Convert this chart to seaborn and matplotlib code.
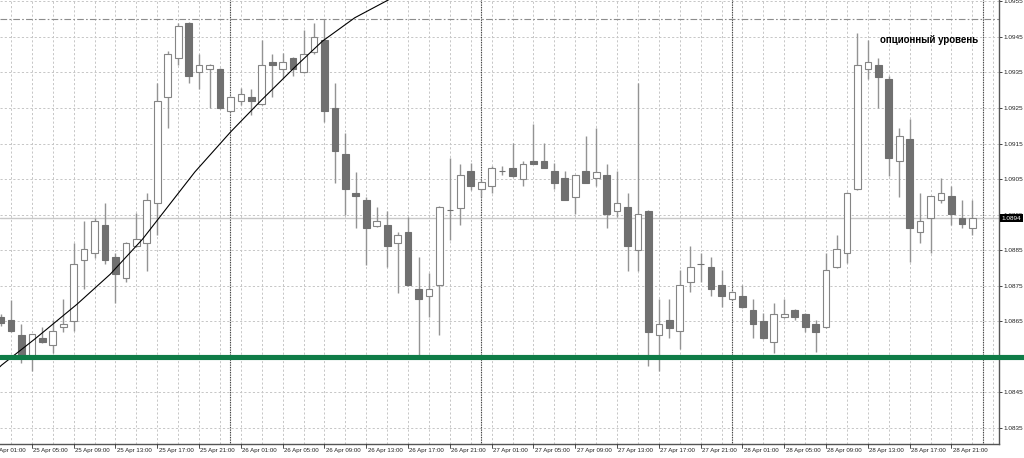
import numpy as np
import pandas as pd
import matplotlib
matplotlib.use("Agg")
import matplotlib.pyplot as plt
import seaborn as sns
from matplotlib.transforms import blended_transform_factory

# ---------------- data ----------------
start_time = "2017-04-25 02:00"
n_bars = 94
ref_time = "2017-04-26 00:00"

open_ = [1.08661, 1.08653, 1.08611, 1.08549, 1.08602, 1.08582, 1.08633, 1.08650, 1.08822, 1.08842,
         1.08920, 1.08830, 1.08771, 1.08861, 1.08870, 1.08982, 1.09281, 1.09391, 1.09489, 1.09351,
         1.09360, 1.09360, 1.09242, 1.09270, 1.09281, 1.09261, 1.09380, 1.09360, 1.09391, 1.09351,
         1.09408, 1.09442, 1.09250, 1.09120, 1.09011, 1.08991, 1.08918, 1.08920, 1.08870, 1.08901,
         1.08740, 1.08720, 1.08751, 1.08963, 1.08968, 1.09073, 1.09022, 1.09030, 1.09073, 1.09081,
         1.09050, 1.09101, 1.09101, 1.09073, 1.09053, 1.08999, 1.09073, 1.09053, 1.09061, 1.08960,
         1.08971, 1.08850, 1.08960, 1.08611, 1.08653, 1.08622, 1.08760, 1.08811, 1.08802, 1.08751,
         1.08712, 1.08720, 1.08681, 1.08650, 1.08591, 1.08661, 1.08681, 1.08670, 1.08642, 1.08633,
         1.08802, 1.08842, 1.09022, 1.09360, 1.09371, 1.09332, 1.09101, 1.09163, 1.08901, 1.08940,
         1.08991, 1.09002, 1.08940, 1.08912]
high = [1.08670, 1.08709, 1.08642, 1.08615, 1.08633, 1.08653, 1.08712, 1.08870, 1.08932, 1.08940,
        1.08982, 1.08842, 1.08873, 1.08954, 1.09011, 1.09320, 1.09411, 1.09489, 1.09492, 1.09402,
        1.09374, 1.09363, 1.09284, 1.09306, 1.09304, 1.09442, 1.09402, 1.09405, 1.09393, 1.09470,
        1.09489, 1.09501, 1.09320, 1.09180, 1.09070, 1.08999, 1.08971, 1.08960, 1.08901, 1.08943,
        1.08830, 1.08785, 1.08974, 1.09109, 1.09092, 1.09095, 1.09047, 1.09087, 1.09087, 1.09151,
        1.09101, 1.09205, 1.09151, 1.09095, 1.09073, 1.09062, 1.09171, 1.09194, 1.09092, 1.09073,
        1.09011, 1.09320, 1.08963, 1.08712, 1.08712, 1.08794, 1.08861, 1.08842, 1.08830, 1.08794,
        1.08735, 1.08751, 1.08712, 1.08673, 1.08701, 1.08712, 1.08684, 1.08673, 1.08653, 1.08842,
        1.08892, 1.09013, 1.09461, 1.09442, 1.09391, 1.09340, 1.09194, 1.09219, 1.09011, 1.09003,
        1.09053, 1.09030, 1.08991, 1.08991]
low = [1.08636, 1.08619, 1.08532, 1.08509, 1.08588, 1.08560, 1.08619, 1.08622, 1.08740, 1.08827,
       1.08811, 1.08701, 1.08760, 1.08858, 1.08791, 1.08892, 1.09194, 1.09371, 1.09320, 1.09304,
       1.09250, 1.09248, 1.09239, 1.09258, 1.09230, 1.09258, 1.09281, 1.09335, 1.09340, 1.09349,
       1.09402, 1.09211, 1.09039, 1.08949, 1.08912, 1.08808, 1.08916, 1.08802, 1.08729, 1.08749,
       1.08549, 1.08661, 1.08611, 1.08878, 1.08920, 1.09019, 1.08999, 1.09011, 1.09061, 1.09057,
       1.09030, 1.09091, 1.09080, 1.09022, 1.08990, 1.08951, 1.09038, 1.09030, 1.08912, 1.08943,
       1.08791, 1.08791, 1.08523, 1.08509, 1.08602, 1.08571, 1.08732, 1.08760, 1.08720, 1.08689,
       1.08709, 1.08688, 1.08602, 1.08601, 1.08560, 1.08658, 1.08653, 1.08619, 1.08563, 1.08630,
       1.08799, 1.08813, 1.09019, 1.09332, 1.09250, 1.09058, 1.08999, 1.08816, 1.08870, 1.08842,
       1.08982, 1.08920, 1.08912, 1.08892]
close = [1.08644, 1.08622, 1.08551, 1.08613, 1.08591, 1.08622, 1.08642, 1.08811, 1.08853, 1.08932,
         1.08822, 1.08782, 1.08870, 1.08881, 1.08991, 1.09270, 1.09402, 1.09481, 1.09340, 1.09371,
         1.09371, 1.09250, 1.09281, 1.09289, 1.09270, 1.09371, 1.09371, 1.09380, 1.09360, 1.09402,
         1.09450, 1.09242, 1.09129, 1.09022, 1.09002, 1.08912, 1.08932, 1.08861, 1.08892, 1.08751,
         1.08712, 1.08740, 1.08971, 1.08962, 1.09061, 1.09030, 1.09042, 1.09081, 1.09072, 1.09058,
         1.09092, 1.09092, 1.09081, 1.09039, 1.08991, 1.09061, 1.09039, 1.09070, 1.08951, 1.08982,
         1.08861, 1.08951, 1.08619, 1.08642, 1.08630, 1.08751, 1.08802, 1.08810, 1.08740, 1.08720,
         1.08732, 1.08689, 1.08642, 1.08602, 1.08670, 1.08670, 1.08661, 1.08633, 1.08619, 1.08794,
         1.08853, 1.09011, 1.09371, 1.09380, 1.09337, 1.09109, 1.09171, 1.08912, 1.08932, 1.09002,
         1.09011, 1.08951, 1.08923, 1.08940]

# hand-drawn arc (hours from 26 Apr 00:00, price)
curve_hours = [-22.4, -21.9, -18.7, -14.7, -11.5, -8.4, -3.4, 0.0, 3.0, 6.2, 8.8, 11.9, 15.1, 16.5]
curve_price = [1.08512, 1.08526, 1.08600, 1.08697, 1.08782, 1.08881, 1.09070, 1.09182, 1.09273,
               1.09366, 1.09438, 1.09504, 1.09554, 1.09580]

price_ticks = [1.0835, 1.0845, 1.0855, 1.0865, 1.0875, 1.0885, 1.0895, 1.0905, 1.0915, 1.0925,
               1.0935, 1.0945, 1.0955]
label_start = "2017-04-25 01:00"
n_labels = 24
option_level = 1.0950
support_level = 1.0855
bid_price = 1.0894
annotation = "опционный уровень"

# ---------------- build ----------------
times = pd.date_range(start_time, periods=n_bars, freq="h")
df = pd.DataFrame({"time": times, "open": open_, "high": high, "low": low, "close": close})
ref = pd.Timestamp(ref_time)
df["k"] = (df["time"] - ref) / pd.Timedelta(hours=1)
label_times = pd.date_range(label_start, periods=n_labels, freq="4h")
label_k = (label_times - ref) / pd.Timedelta(hours=1)
label_text = [t.strftime("%d %b %H:%M").lstrip() for t in label_times]

sns.set_theme(style="white")
plt.rcParams["font.family"] = ["Liberation Sans", "DejaVu Sans"]

W, H = 1024, 458
fig = plt.figure(figsize=(W / 100, H / 100), dpi=100)
fig.patch.set_facecolor("white")
ax_bottom_px, ax_right_px = 444, 999
ax = fig.add_axes([0, (H - ax_bottom_px) / H, ax_right_px / W, ax_bottom_px / H])
ax.set_facecolor("white")
ax.set_xlim(-22.05, 73.55)
ax.set_ylim(1.08304, 1.09554)

# grid
grid_col = "#c6c6c6"
for gk in range(-21, 74, 2):
    ax.axvline(gk, color=grid_col, lw=0.7, ls=(0, (2.2, 2.2)), zorder=0.5)
for p in price_ticks:
    ax.axhline(p, color=grid_col, lw=0.7, ls=(0, (2.2, 2.2)), zorder=0.5)

# day separators
for dk in [0, 24, 48, 72]:
    ax.axvline(dk, color="#222222", lw=0.8, ls=(0, (0.75, 0.75)), zorder=1)

# levels
ax.axhline(option_level, color="#8c8c8c", lw=0.8, ls=(0, (6, 2, 1.5, 2)), zorder=1)
ax.axhline(bid_price, color="#c8c8c8", lw=1.0, zorder=1)

# candles
wick_col = "#939393"
bear_col = "#707070"
bull_edge = "#858585"
ax.vlines(df["k"], df["low"], df["high"], colors=wick_col, lw=1.0, zorder=3)
bull = df["close"] >= df["open"]
min_h = 0.000012
bodies_b = (df["close"] - df["open"]).abs().clip(lower=min_h)
ax.bar(df.loc[bull, "k"], bodies_b[bull], bottom=df.loc[bull, "open"], width=0.64,
       color="white", edgecolor=bull_edge, linewidth=0.8, zorder=4)
ax.bar(df.loc[~bull, "k"], bodies_b[~bull], bottom=df.loc[~bull, "close"], width=0.64,
       color=bear_col, edgecolor=bear_col, linewidth=0.8, zorder=4)

# arc
sns.lineplot(x=curve_hours, y=curve_price, ax=ax, color="black", lw=0.8, sort=False,
             estimator=None, zorder=5)

# support level (extends over the price scale)
ax.axhline(support_level - 0.000075, xmin=0, xmax=W / ax_right_px, color="#a8a8a8", lw=1.4,
           clip_on=False, zorder=6)
ax.axhline(support_level, xmin=0, xmax=W / ax_right_px, color="#0f7c47", lw=3.7,
           clip_on=False, zorder=6.5)

# annotation
ax.text(62.16, 1.09442, annotation, fontsize=7, fontweight="bold", color="black",
        ha="left", va="center", zorder=8)

# y axis on the right
ax.yaxis.tick_right()
ax.set_yticks(price_ticks)
ax.set_yticklabels([f"{p:.4f}" for p in price_ticks])
ax.tick_params(axis="y", length=2.2, width=0.6, pad=1.2, labelsize=4.6, colors="#222222",
               direction="out", right=True, left=False)
ax.set_xticks([])

# x labels (drawn as text so the partially cut first label is kept, as in the original)
trans = blended_transform_factory(ax.transData, ax.transAxes)
for k, t in zip(label_k, label_text):
    ax.plot([k, k], [0, -4 / ax_bottom_px], transform=trans, color="#333333", lw=0.6,
            clip_on=False, zorder=7)
    ax.text(k + 0.12, -6.3 / ax_bottom_px, t, transform=trans, fontsize=4.4, color="#222222",
            ha="left", va="center", clip_on=False)

# bid label
tb = blended_transform_factory(ax.transAxes, ax.transData)
ax.text(1 + 2.5 / ax_right_px, bid_price, f"{bid_price:.4f}", transform=tb, fontsize=4.6,
        color="white", ha="left", va="center", clip_on=False, zorder=10,
        bbox=dict(boxstyle="square,pad=0.25", fc="black", ec="none"))

for s in ["left", "top"]:
    ax.spines[s].set_visible(False)
for s in ["right", "bottom"]:
    ax.spines[s].set_color("#555555")
    ax.spines[s].set_linewidth(1.0)

fig.savefig("out.png", dpi=100, facecolor="white")
